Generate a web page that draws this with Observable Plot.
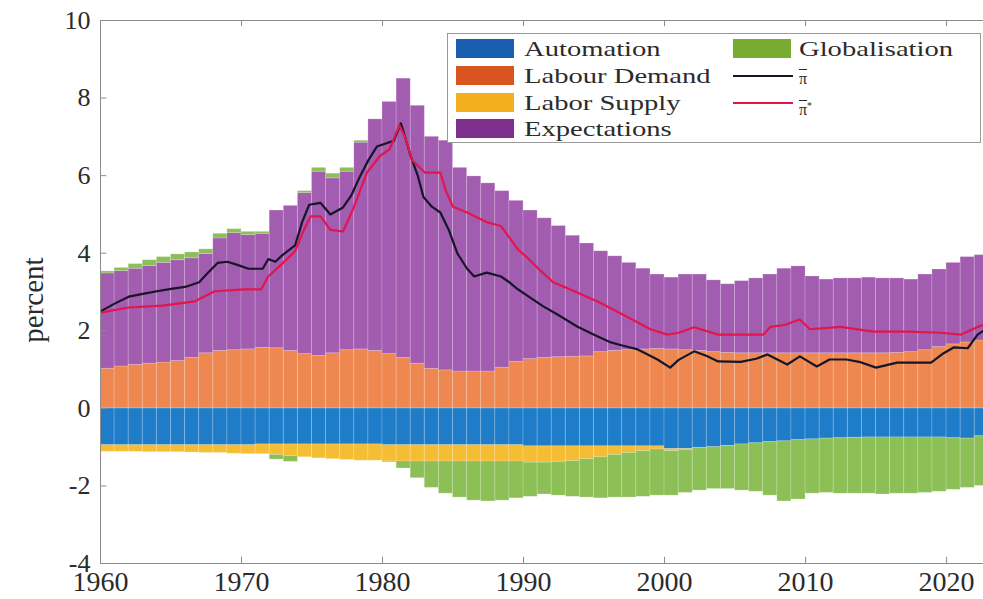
<!DOCTYPE html>
<html><head><meta charset="utf-8">
<script src="https://cdn.jsdelivr.net/npm/d3@7"></script>
<script src="https://cdn.jsdelivr.net/npm/@observablehq/plot@0.6"></script>
<style>
body{margin:0;background:#fff;}
#wrap{position:relative;width:983px;height:599px;overflow:hidden;font-family:"Liberation Serif",serif;}
#legend{position:absolute;left:447px;top:33px;width:534px;height:110px;border:1px solid #9a9a9a;background:#fff;box-sizing:border-box;}
.sw{position:absolute;width:58px;height:19px;}
.ln{position:absolute;width:60px;height:0;border-top:2px solid;}
.lb{position:absolute;font-size:22px;line-height:22px;color:#2b2b2b;white-space:nowrap;transform:scaleX(1.3);transform-origin:0 50%;}
.pi{text-decoration:overline;}
#ylab{position:absolute;left:33px;top:300px;transform:translate(-50%,-50%) rotate(-90deg);font-size:29px;color:#2b2b2b;white-space:nowrap;}
</style></head>
<body><div id="wrap"></div>
<script>
// ---- data ----
const years = d3.range(1960, 2023);
const seriesNames = ["Automation", "Labour Demand", "Labor Supply", "Expectations", "Globalisation"];
const automation = [
 -0.95,-0.95,-0.95,-0.95,-0.95,-0.95,-0.95,-0.95,-0.95,-0.95,
 -0.95,-0.93,-0.93,-0.93,-0.93,-0.93,-0.93,-0.93,-0.93,-0.93,
 -0.95,-0.95,-0.95,-0.95,-0.95,-0.95,-0.95,-0.95,-0.95,-0.95,
 -0.98,-0.98,-0.98,-0.98,-0.98,-0.98,-0.98,-0.98,-0.98,-0.98,
 -1.05,-1.05,-1.02,-1.0,-0.97,-0.93,-0.9,-0.87,-0.85,-0.82,
 -0.8,-0.78,-0.77,-0.76,-0.75,-0.75,-0.75,-0.75,-0.75,-0.75,
 -0.77,-0.78,-0.72];
const labourDemand = [
 1.02,1.08,1.12,1.15,1.18,1.22,1.3,1.42,1.48,1.5,
 1.52,1.56,1.55,1.48,1.4,1.35,1.42,1.5,1.52,1.48,
 1.4,1.3,1.15,1.02,0.98,0.95,0.95,0.95,1.05,1.2,
 1.27,1.3,1.32,1.33,1.34,1.45,1.48,1.5,1.52,1.53,
 1.52,1.5,1.48,1.45,1.43,1.42,1.42,1.42,1.42,1.42,
 1.42,1.42,1.42,1.42,1.42,1.42,1.43,1.45,1.5,1.58,
 1.65,1.7,1.75];
const laborSupply = [
 -0.17,-0.17,-0.17,-0.18,-0.18,-0.18,-0.19,-0.2,-0.2,-0.22,
 -0.23,-0.25,-0.27,-0.3,-0.33,-0.36,-0.38,-0.4,-0.42,-0.42,
 -0.42,-0.42,-0.42,-0.42,-0.42,-0.42,-0.42,-0.42,-0.42,-0.42,
 -0.42,-0.42,-0.4,-0.38,-0.33,-0.28,-0.22,-0.17,-0.12,-0.08,
 -0.05,-0.02,0,0,0,0,0,0,0,0,
 0,0,0,0,0,0,0,0,0,0,
 0,0,0];
const expectations = [
 2.46,2.46,2.48,2.52,2.57,2.6,2.57,2.56,2.9,3.02,
 2.95,2.94,3.55,3.74,4.15,4.75,4.51,4.6,5.33,5.97,
 6.5,7.2,6.65,5.98,5.92,5.25,5.03,4.85,4.55,4.15,
 3.83,3.6,3.38,3.12,2.91,2.6,2.44,2.25,2.08,1.92,
 1.85,1.95,1.97,1.85,1.77,1.86,1.93,2.03,2.18,2.24,
 1.98,1.9,1.93,1.93,1.95,1.93,1.92,1.87,1.95,2.0,
 2.1,2.2,2.2];
const globalisation = [
 0.05,0.08,0.12,0.15,0.15,0.15,0.15,0.12,0.12,0.1,
 0.08,0.05,-0.12,-0.15,0.05,0.1,0.12,0.1,0.05,0.0,
 -0.02,-0.18,-0.43,-0.68,-0.83,-0.93,-1.01,-1.03,-1.01,-0.95,
 -0.88,-0.82,-0.87,-0.92,-0.99,-1.06,-1.1,-1.15,-1.18,-1.19,
 -1.15,-1.11,-1.1,-1.08,-1.11,-1.19,-1.25,-1.38,-1.55,-1.53,
 -1.4,-1.4,-1.43,-1.44,-1.45,-1.47,-1.45,-1.45,-1.43,-1.4,
 -1.33,-1.27,-1.28];
const piBarYears = [1960,1961,1962,1963,1964,1965,1966,1967,1967.5,1968.3,1969,1969.7,1970.5,1971.5,1971.9,1972.4,1972.9,1973.8,1974.3,1974.8,1975.6,1976.3,1977.2,1977.8,1978.4,1979,1979.6,1980.8,1981.3,1981.6,1982,1982.5,1982.9,1983.5,1984.1,1984.7,1985.3,1986,1986.5,1987.4,1988.4,1989,1989.6,1990.5,1991.4,1992.5,1993.8,1995,1996.2,1997,1998.1,1999.5,2000.4,2001,2002.1,2003,2003.8,2005.4,2006.5,2007.3,2008.7,2009.6,2010.8,2011.7,2012.9,2013.8,2015,2016.5,2018.9,2019.7,2020.5,2021.5,2022.2,2022.6];
const piBar = [2.5,2.7,2.88,2.95,3.02,3.08,3.13,3.25,3.45,3.75,3.78,3.7,3.6,3.6,3.85,3.78,3.95,4.2,4.8,5.25,5.3,5.0,5.18,5.5,5.98,6.4,6.75,6.9,7.35,7.0,6.5,6.0,5.45,5.2,5.05,4.6,4.0,3.6,3.4,3.5,3.4,3.25,3.07,2.85,2.63,2.4,2.11,1.9,1.7,1.62,1.52,1.26,1.05,1.25,1.47,1.35,1.21,1.2,1.28,1.39,1.13,1.34,1.08,1.26,1.26,1.2,1.05,1.18,1.18,1.4,1.57,1.55,1.9,2.0];
const piStarYears = [1960,1962,1964.4,1966.7,1968.1,1970.2,1971.4,1971.9,1972.8,1973.8,1974.3,1974.9,1975.6,1976.3,1977.2,1977.9,1978.9,1979.8,1980.5,1981.2,1981.6,1982.1,1983,1984.1,1984.5,1985,1986,1987.4,1988.4,1989,1989.6,1990.4,1991.2,1992.1,1993.8,1995.4,1997.3,1999,2000.2,2001,2002.1,2003.8,2007,2007.5,2008.5,2009.6,2010.3,2012.5,2014.8,2017.2,2019.6,2021,2022.2,2022.6];
const piStar = [2.47,2.6,2.65,2.76,3.02,3.07,3.07,3.4,3.7,4.05,4.5,4.95,4.95,4.6,4.56,5.13,6.08,6.5,6.68,7.3,7.0,6.4,6.08,6.08,5.6,5.2,5.05,4.8,4.7,4.4,4.1,3.84,3.55,3.25,2.99,2.73,2.37,2.04,1.9,1.95,2.09,1.9,1.9,2.1,2.15,2.29,2.04,2.1,1.98,1.98,1.95,1.9,2.1,2.15];
const yTicks = [-4, -2, 0, 2, 4, 6, 8, 10];
const xTicks = [1960, 1970, 1980, 1990, 2000, 2010, 2020];
const barColors = ["#1f7cc9", "#ee8850", "#f5bd33", "#a25cb0", "#8dbf57"];
const legendColors = ["#1a5eb0", "#d9541f", "#f2b01e", "#7e2f8e", "#77ac30"];
const lineColors = ["#161628", "#e3164c"];

// ---- tables ----
const seriesValues = [automation, labourDemand, laborSupply, expectations, globalisation];
const rows = [];
years.forEach((yr, i) => {
  seriesNames.forEach((s, k) => rows.push({year: yr, year2: yr + 1, series: s, value: seriesValues[k][i]}));
});
const barPts = piBarYears.map((x, i) => ({x, y: piBar[i]}));
const starPts = piStarYears.map((x, i) => ({x, y: piStar[i]}));
const axisColor = "#8c8c8c";
const font = "Liberation Serif";

const chart = Plot.plot({
  width: 983, height: 599,
  marginLeft: 100, marginRight: 0, marginTop: 20, marginBottom: 36,
  x: {domain: [1960, 2022.62]},
  y: {domain: [-4, 10]},
  color: {domain: seriesNames, range: barColors},
  style: {fontFamily: font, background: "white", color: "#2b2b2b"},
  marks: [
    Plot.rectY(rows, {x1: "year", x2: "year2", y: "value", fill: "series", stroke: "white", strokeOpacity: 0.18, strokeWidth: 1, clip: true}),
    Plot.line(barPts, {x: "x", y: "y", stroke: lineColors[0], strokeWidth: 2.2, clip: true}),
    Plot.line(starPts, {x: "x", y: "y", stroke: lineColors[1], strokeWidth: 2.2, clip: true}),
    Plot.ruleY([yTicks[0], yTicks[yTicks.length - 1]], {stroke: axisColor}),
    Plot.ruleX([xTicks[0]], {stroke: axisColor}),
    Plot.ruleY(yTicks, {x1: xTicks[0], x2: xTicks[0] + 0.45, stroke: axisColor}),
    Plot.ruleX(xTicks, {y1: yTicks[0], y2: yTicks[0] + 0.16, stroke: axisColor}),
    Plot.ruleX(xTicks, {y1: yTicks[yTicks.length - 1], y2: yTicks[yTicks.length - 1] - 0.16, stroke: axisColor}),
    Plot.axisY(yTicks, {tickSize: 0, tickPadding: 10, fontSize: 26, label: null, tickFormat: d => String(d)}),
    Plot.axisX(xTicks, {tickSize: 0, tickPadding: 8, fontSize: 28, label: null, tickFormat: d => String(d)})
  ]
});

const wrap = document.getElementById("wrap");
wrap.appendChild(chart);

const ylab = document.createElement("div");
ylab.id = "ylab"; ylab.textContent = "percent";
wrap.appendChild(ylab);

// ---- legend ----
const legend = document.createElement("div");
legend.id = "legend";
wrap.appendChild(legend);
const rowTops = [5, 32, 59, 85];
const legendItems = [
  {name: "Automation", type: "sw", color: legendColors[0], col: 0, row: 0},
  {name: "Labour Demand", type: "sw", color: legendColors[1], col: 0, row: 1},
  {name: "Labor Supply", type: "sw", color: legendColors[2], col: 0, row: 2},
  {name: "Expectations", type: "sw", color: legendColors[3], col: 0, row: 3},
  {name: "Globalisation", type: "sw", color: legendColors[4], col: 1, row: 0},
  {name: "π", sup: "", type: "ln", color: lineColors[0], col: 1, row: 1},
  {name: "π", sup: "*", type: "ln", color: lineColors[1], col: 1, row: 2}
];
const colSw = [8, 285], colTx = [76, 351];
legendItems.forEach(it => {
  const top = rowTops[it.row];
  const m = document.createElement("div");
  m.className = it.type;
  m.style.left = colSw[it.col] + "px";
  if (it.type === "sw") { m.style.top = top + "px"; m.style.background = it.color; }
  else { m.style.top = (top + 9) + "px"; m.style.borderTopColor = it.color; }
  legend.appendChild(m);
  const t = document.createElement("div");
  t.className = "lb";
  t.style.left = colTx[it.col] + "px";
  t.style.top = (top - 1) + "px";
  if (it.type === "ln") {
    t.style.fontSize = "16px"; t.style.transform = "none"; t.style.top = (top + 2) + "px";
    const p = document.createElement("span"); p.className = "pi"; p.textContent = it.name; t.appendChild(p);
    if (it.sup) { const s = document.createElement("sup"); s.textContent = it.sup; s.style.fontSize = "10px"; t.appendChild(s); }
  } else {
    t.textContent = it.name;
  }
  legend.appendChild(t);
});
</script>
</body></html>
